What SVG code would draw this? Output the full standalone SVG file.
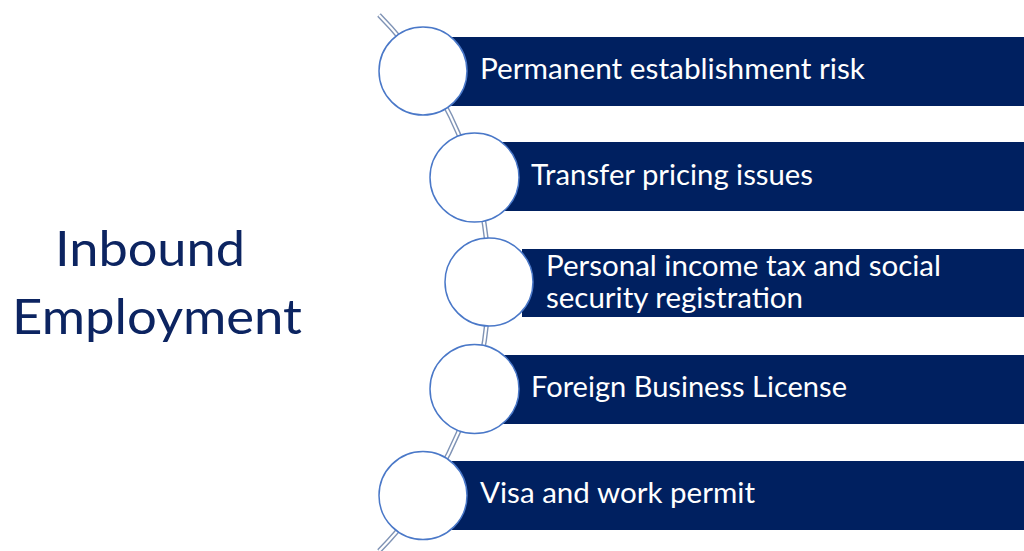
<svg xmlns="http://www.w3.org/2000/svg" width="1024" height="551" viewBox="0 0 1024 551">
<style>
.bar{fill:#002060}
.dot{fill:#ffffff;stroke:#4a78c8;stroke-width:1.5}
.lbl{fill:#ffffff;font-family:Lato,"Open Sans","Liberation Sans",sans-serif;font-size:28px}
.title{fill:#0c2461;font-family:Lato,"Open Sans","Liberation Sans",sans-serif;font-size:48px}
.arcO{fill:none;stroke:#7f93b5;stroke-width:5}
.arcI{fill:none;stroke:#ffffff;stroke-width:2.2}
</style>
<rect width="1024" height="551" fill="#ffffff"/>
<g id="connectors">
<path class="arcO" d="M 379 15 A 382 382 0 0 1 379 551"/>
<path class="arcI" d="M 379 15 A 382 382 0 0 1 379 551"/>
</g>
<g id="title">
<text class="title" x="55" y="266" textLength="190" lengthAdjust="spacingAndGlyphs">Inbound</text>
<text class="title" x="12" y="334" textLength="290" lengthAdjust="spacingAndGlyphs">Employment</text>
</g>
<g id="node1">
<rect class="bar" x="450" y="37" width="574" height="69"/>
<circle class="dot" cx="423" cy="71" r="44"/>
<text class="lbl" x="480" y="79" textLength="385" lengthAdjust="spacingAndGlyphs">Permanent establishment risk</text>
</g>
<g id="node2">
<rect class="bar" x="502" y="142" width="522" height="69"/>
<circle class="dot" cx="474.5" cy="177.5" r="44.5"/>
<text class="lbl" x="531" y="185" textLength="282" lengthAdjust="spacingAndGlyphs">Transfer pricing issues</text>
</g>
<g id="node3">
<rect class="bar" x="522" y="249" width="502" height="68"/>
<circle class="dot" cx="489" cy="282" r="44"/>
<text class="lbl" x="546" y="276" textLength="395" lengthAdjust="spacingAndGlyphs">Personal income tax and social</text>
<text class="lbl" x="546" y="308" textLength="257" lengthAdjust="spacingAndGlyphs">security registration</text>
</g>
<g id="node4">
<rect class="bar" x="502" y="355" width="522" height="69"/>
<circle class="dot" cx="474.5" cy="389" r="44.5"/>
<text class="lbl" x="531" y="397" textLength="316" lengthAdjust="spacingAndGlyphs">Foreign Business License</text>
</g>
<g id="node5">
<rect class="bar" x="452" y="461" width="572" height="69"/>
<circle class="dot" cx="423" cy="495.5" r="44"/>
<text class="lbl" x="480" y="503" textLength="275" lengthAdjust="spacingAndGlyphs">Visa and work permit</text>
</g>
</svg>
